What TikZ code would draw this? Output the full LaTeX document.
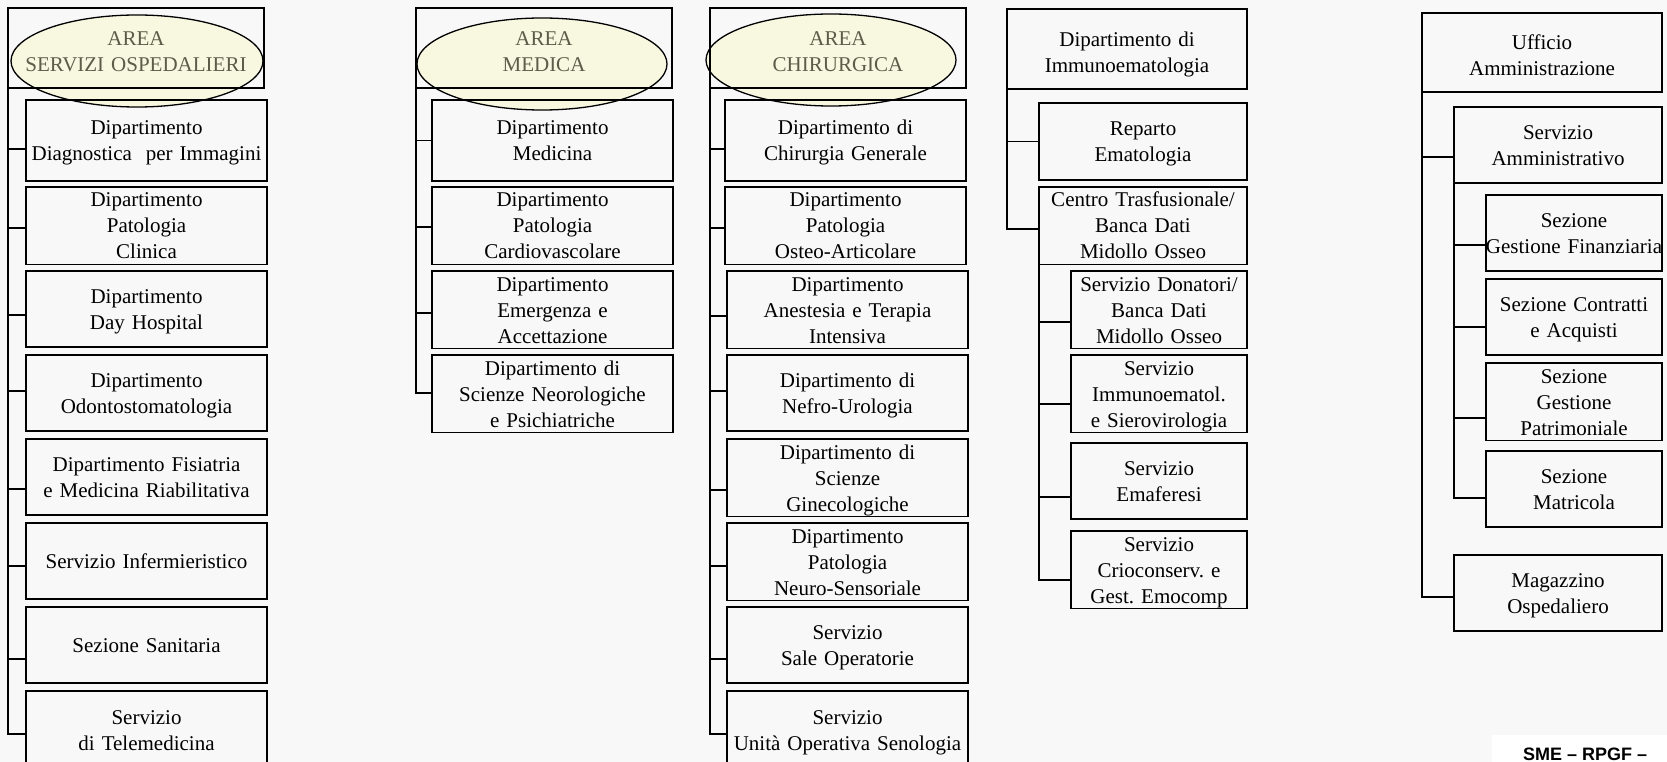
\documentclass[tikz,border=0pt]{standalone}
\usepackage{fontspec}
\setmainfont{Liberation Serif}
\newfontfamily\smefont{Liberation Sans}
\usetikzlibrary{shapes.geometric}
\definecolor{bgcol}{RGB}{248,248,248}
\definecolor{ellfill}{RGB}{248,248,222}
\definecolor{areatext}{RGB}{92,92,72}
\newcommand\orgfont{\fontsize{21}{26}\selectfont\frenchspacing}
\begin{document}
\begin{tikzpicture}[x=1pt,y=-1pt,
  box/.style={draw, line width=1.8pt, rectangle, inner sep=0pt, outer sep=0pt, align=center, font=\orgfont, anchor=north west,
    execute at begin node={\rule{0pt}{20pt}}, execute at end node={\rule[-5.5pt]{0pt}{5.5pt}}},
  hdrbox/.style={box, execute at begin node={\rule{0pt}{26pt}}},
  bx/.style 2 args={minimum width=#1pt, minimum height=#2pt, text width=#1pt},
  area/.style={text=areatext},
  oval/.style={ellipse, draw, line width=1.3pt, fill=ellfill, fill opacity=0.85, inner sep=0pt},
  conn/.style={line width=1.8pt},
]
\useasboundingbox (0,0) rectangle (1667,762);
\fill[bgcol] (0,0) rectangle (1667,762);

% ---------- Column 1 ----------
\node[oval, minimum width=252pt, minimum height=92pt] (e1) at (137,61) {};
\node[hdrbox, bx={256}{80}, area] (h1) at (8,8) {AREA\\SERVIZI OSPEDALIERI};
\node[box, bx={241}{81}] (b11) at (26,100) {Dipartimento\\Diagnostica\ \ per Immagini};
\node[box, bx={241}{76}] (b12) at (26,187) {Dipartimento\\Patologia\\Clinica};
\node[box, bx={241}{76}] (b13) at (26,271) {Dipartimento\\Day Hospital};
\node[box, bx={241}{76}] (b14) at (26,355) {Dipartimento\\Odontostomatologia};
\node[box, bx={241}{76}] (b15) at (26,439) {Dipartimento Fisiatria\\e Medicina Riabilitativa};
\node[box, bx={241}{76}] (b16) at (26,523) {Servizio Infermieristico};
\node[box, bx={241}{76}] (b17) at (26,607) {Sezione Sanitaria};
\node[box, bx={241}{79}] (b18) at (26,691) {Servizio\\di Telemedicina};
\draw[conn] (h1.south west) |- ([yshift=-8.5pt]b11.west);
\draw[conn] (h1.south west) |- ([yshift=-2pt]b12.west);
\draw[conn] (h1.south west) |- ([yshift=-6pt]b13.west);
\draw[conn] (h1.south west) |- ([yshift=2pt]b14.west);
\draw[conn] (h1.south west) |- ([yshift=-12pt]b15.west);
\draw[conn] (h1.south west) |- ([yshift=-5pt]b16.west);
\draw[conn] (h1.south west) |- ([yshift=-14pt]b17.west);
\draw[conn] (h1.south west) |- ([yshift=-3.5pt]b18.west);

% ---------- Column 2 ----------
\node[oval, minimum width=250pt, minimum height=92pt] (e2) at (542,64) {};
\node[hdrbox, bx={256}{80}, area] (h2) at (416,8) {AREA\\MEDICA};
\node[box, bx={241}{81}] (b21) at (432,100) {Dipartimento\\Medicina};
\node[box, bx={241}{76}] (b22) at (432,187) {Dipartimento\\Patologia\\Cardiovascolare};
\node[box, bx={241}{76}] (b23) at (432,271) {Dipartimento\\Emergenza e\\Accettazione};
\node[box, bx={241}{76}] (b24) at (432,355) {Dipartimento di\\Scienze Neorologiche\\e Psichiatriche};
\draw[conn] (h2.south west) |- (b21.west);
\draw[conn] (h2.south west) |- ([yshift=-1pt]b22.west);
\draw[conn] (h2.south west) |- ([yshift=-3pt]b23.west);
\draw[conn] (h2.south west) |- ([yshift=1pt]b24.west);

% ---------- Column 3 ----------
\node[oval, minimum width=250pt, minimum height=92pt] (e3) at (831,60) {};
\node[hdrbox, bx={256}{80}, area] (h3) at (710,8) {AREA\\CHIRURGICA};
\node[box, bx={241}{81}] (b31) at (725,100) {Dipartimento di\\Chirurgia Generale};
\node[box, bx={241}{76}] (b32) at (725,187) {Dipartimento\\Patologia\\Osteo-Articolare};
\node[box, bx={241}{76}] (b33) at (727,271) {Dipartimento\\Anestesia e Terapia\\Intensiva};
\node[box, bx={241}{76}] (b34) at (727,355) {Dipartimento di\\Nefro-Urologia};
\node[box, bx={241}{76}] (b35) at (727,439) {Dipartimento di\\Scienze\\Ginecologiche};
\node[box, bx={241}{76}] (b36) at (727,523) {Dipartimento\\Patologia\\Neuro-Sensoriale};
\node[box, bx={241}{76}] (b37) at (727,607) {Servizio\\Sale Operatorie};
\node[box, bx={241}{79}] (b38) at (727,691) {Servizio\\Unità Operativa Senologia};
\draw[conn] (h3.south west) |- ([yshift=-8.5pt]b31.west);
\draw[conn] (h3.south west) |- ([yshift=-2pt]b32.west);
\draw[conn] (h3.south west) |- ([yshift=-6pt]b33.west);
\draw[conn] (h3.south west) |- ([yshift=2pt]b34.west);
\draw[conn] (h3.south west) |- ([yshift=-12pt]b35.west);
\draw[conn] (h3.south west) |- ([yshift=-4pt]b36.west);
\draw[conn] (h3.south west) |- ([yshift=-14pt]b37.west);
\draw[conn] (h3.south west) |- ([yshift=-3.5pt]b38.west);

% ---------- Column 4 ----------
\node[hdrbox, bx={240}{80}] (h4) at (1007,9) {Dipartimento di\\Immunoematologia};
\node[box, bx={208}{77}] (b41) at (1039,103) {Reparto\\Ematologia};
\node[box, bx={208}{76}] (b42) at (1039,187) {Centro Trasfusionale/\\Banca Dati\\Midollo Osseo};
\node[box, bx={176}{76}] (b43) at (1071,271) {Servizio Donatori/\\Banca Dati\\Midollo Osseo};
\node[box, bx={176}{76}] (b44) at (1071,355) {Servizio\\Immunoematol.\\e Sierovirologia};
\node[box, bx={176}{76}] (b45) at (1071,443) {Servizio\\Emaferesi};
\node[box, bx={176}{76}] (b46) at (1071,531) {Servizio\\Crioconserv. e\\Gest. Emocomp};
\draw[conn] (h4.south west) |- (b41.west);
\draw[conn] (h4.south west) |- ([yshift=-3pt]b42.west);
\draw[conn] (b42.south west) |- ([yshift=-12pt]b43.west);
\draw[conn] (b42.south west) |- ([yshift=-10pt]b44.west);
\draw[conn] (b42.south west) |- ([yshift=-16pt]b45.west);
\draw[conn] (b42.south west) |- ([yshift=-10pt]b46.west);

% ---------- Column 5 ----------
\node[hdrbox, bx={240}{79}] (h5) at (1422,13) {Ufficio\\Amministrazione};
\node[box, bx={208}{76}] (b51) at (1454,107) {Servizio\\Amministrativo};
\node[box, bx={176}{76}] (b52) at (1486,195) {Sezione\\\makebox[176pt][c]{Gestione Finanziaria}};
\node[box, bx={176}{76}] (b53) at (1486,279) {Sezione Contratti\\e Acquisti};
\node[box, bx={176}{76}] (b54) at (1486,363) {Sezione\\Gestione\\Patrimoniale};
\node[box, bx={176}{76}] (b55) at (1486,451) {Sezione\\Matricola};
\node[box, bx={208}{76}] (b56) at (1454,555) {Magazzino\\Ospedaliero};
\draw[conn] (h5.south west) |- ([yshift=-12pt]b51.west);
\draw[conn] (h5.south west) |- ([yshift=-4pt]b56.west);
\draw[conn] (b51.south west) |- ([yshift=-12pt]b52.west);
\draw[conn] (b51.south west) |- ([yshift=-10pt]b53.west);
\draw[conn] (b51.south west) |- ([yshift=-16pt]b54.west);
\draw[conn] (b51.south west) |- ([yshift=-9pt]b55.west);

% ---------- footer ----------
\node[fill=white, anchor=north west, minimum width=175pt, minimum height=27pt, inner sep=0pt, outer sep=0pt] (sme) at (1492,735) {};
\node[anchor=base west, inner sep=0pt, font=\smefont\bfseries\fontsize{18}{21}\selectfont] (smet) at (1523,760) {SME – RPGF –};
\end{tikzpicture}
\end{document}
